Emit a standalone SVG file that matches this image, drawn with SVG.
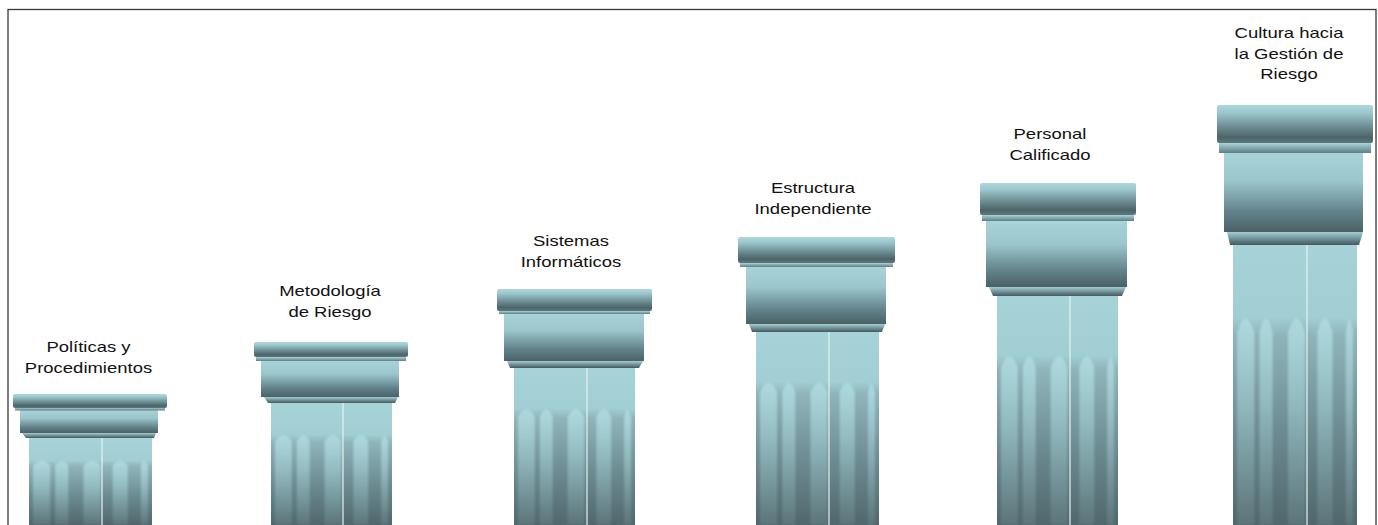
<svg xmlns="http://www.w3.org/2000/svg" xmlns:xlink="http://www.w3.org/1999/xlink" width="1378" height="525" viewBox="0 0 1378 525">
  <defs>
    <style>
      .frame { fill: none; stroke: #3a3a3a; stroke-width: 1.3; }
      .abacus { fill: url(#gAbacus); }
      .band { fill: url(#gBand); }
      .box { fill: url(#gBox); }
      .neck { fill: url(#gNeck); }
      .shaft { fill: url(#gShaft); }
      .flute { fill: url(#gFlute); }
      .fluting { filter: url(#soft); }
      .divider { stroke: #e4f3f5; stroke-width: 1.2; }
      .label { font-family: "Liberation Sans", Arial, sans-serif; font-size: 15.4px; fill: #111; text-anchor: middle; }
    </style>
    <filter id="soft" x="-5%" y="-5%" width="110%" height="110%">
      <feGaussianBlur stdDeviation="0.8"/>
    </filter>
    <linearGradient id="gAbacus" x1="0" y1="0" x2="0" y2="1">
      <stop offset="0" stop-color="#acd7dc"/>
      <stop offset="0.2" stop-color="#9cc8cd"/>
      <stop offset="0.55" stop-color="#6f9096"/>
      <stop offset="0.85" stop-color="#4c6469"/>
      <stop offset="1" stop-color="#5d797e"/>
    </linearGradient>
    <linearGradient id="gBand" x1="0" y1="0" x2="0" y2="1">
      <stop offset="0" stop-color="#a9d3d8"/>
      <stop offset="1" stop-color="#5e7d83"/>
    </linearGradient>
    <linearGradient id="gBox" x1="0" y1="0" x2="0" y2="1">
      <stop offset="0" stop-color="#a8d4d9"/>
      <stop offset="0.35" stop-color="#9bc7cc"/>
      <stop offset="0.75" stop-color="#62828a"/>
      <stop offset="1" stop-color="#4a6166"/>
    </linearGradient>
    <linearGradient id="gNeck" x1="0" y1="0" x2="0" y2="1">
      <stop offset="0" stop-color="#a3ced3"/>
      <stop offset="0.4" stop-color="#7c9ea4"/>
      <stop offset="1" stop-color="#44595e"/>
    </linearGradient>
    <linearGradient id="gShaft" x1="0" y1="0" x2="0" y2="1">
      <stop offset="0" stop-color="#a5d3d8"/>
      <stop offset="0.26" stop-color="#a0ced3"/>
      <stop offset="0.32" stop-color="#8fb5ba"/>
      <stop offset="0.65" stop-color="#6d8d93"/>
      <stop offset="1" stop-color="#50676c"/>
    </linearGradient>
    <linearGradient id="gFlute" x1="0" y1="0" x2="0" y2="1">
      <stop offset="0" stop-color="#aed9de" stop-opacity="1"/>
      <stop offset="0.4" stop-color="#9ec9ce" stop-opacity="0.7"/>
      <stop offset="1" stop-color="#7e9da2" stop-opacity="0.25"/>
    </linearGradient>
    <!-- fluting of one shaft, 122 wide by 100 tall; scaled per column -->
    <g id="flutes">
      <path class="flute" d="M4,7 L8,2 L12.5,0 L17,2 L21,7 V100 H4 Z"/>
      <path class="flute" d="M26,7 L29,2 L32.5,0 L36,2 L39,7 V100 H26 Z"/>
      <path class="flute" d="M54,7 L58,2 L62.5,0 L67,2 L71,7 V100 H54 Z"/>
      <path class="flute" d="M83,7 L86.5,2 L90.5,0 L94.5,2 L98,7 V100 H83 Z"/>
      <path class="flute" d="M111,7 L113,2 L114.5,0 L116,2 L118,7 V100 H111 Z"/>
    </g>
  </defs>

  <rect class="frame" x="8" y="9.5" width="1368" height="530"/>

  <g id="col-politicas">
    <rect class="shaft" x="29" y="438" width="123" height="87"/>
    <g class="fluting"><use xlink:href="#flutes" href="#flutes" transform="translate(29 460.6) scale(1.008 0.644)"/></g>
    <line class="divider" x1="102" y1="436" x2="102" y2="525"/>
    <polygon class="neck" points="22,433 156,433 154,438 26,438"/>
    <rect class="box" x="20" y="410" width="138" height="23"/>
    <rect class="band" x="15" y="407.5" width="150" height="3"/>
    <rect class="abacus" x="13" y="394" width="154" height="14" rx="2"/>
    <text class="label" transform="matrix(1.2 0 0 1 88.5 352)">Políticas y</text>
    <text class="label" transform="matrix(1.2 0 0 1 88.5 372.5)">Procedimientos</text>
  </g>

  <g id="col-metodologia">
    <rect class="shaft" x="271" y="403" width="121" height="122"/>
    <g class="fluting"><use xlink:href="#flutes" href="#flutes" transform="translate(271 434.7) scale(0.992 0.903)"/></g>
    <line class="divider" x1="343" y1="400" x2="343" y2="525"/>
    <polygon class="neck" points="264,397 398,397 395,403 268,403"/>
    <rect class="box" x="261" y="361" width="138" height="36"/>
    <rect class="band" x="256" y="357" width="150" height="4"/>
    <rect class="abacus" x="254" y="342" width="154" height="15" rx="2"/>
    <text class="label" transform="matrix(1.2 0 0 1 330 296)">Metodología</text>
    <text class="label" transform="matrix(1.2 0 0 1 330 316.5)">de Riesgo</text>
  </g>

  <g id="col-sistemas">
    <rect class="shaft" x="514" y="368" width="121" height="157"/>
    <g class="fluting"><use xlink:href="#flutes" href="#flutes" transform="translate(514 408.8) scale(0.992 1.162)"/></g>
    <line class="divider" x1="587" y1="364" x2="587" y2="525"/>
    <polygon class="neck" points="507,361 643,361 639,368 510,368"/>
    <rect class="box" x="504" y="314" width="140" height="47"/>
    <rect class="band" x="499" y="311" width="151" height="3"/>
    <rect class="abacus" x="497" y="289" width="155" height="22" rx="2"/>
    <text class="label" transform="matrix(1.2 0 0 1 571 246)">Sistemas</text>
    <text class="label" transform="matrix(1.2 0 0 1 571 266.5)">Informáticos</text>
  </g>

  <g id="col-estructura">
    <rect class="shaft" x="756" y="332" width="123" height="193"/>
    <g class="fluting"><use xlink:href="#flutes" href="#flutes" transform="translate(756 382.2) scale(1.008 1.428)"/></g>
    <line class="divider" x1="829" y1="327" x2="829" y2="525"/>
    <polygon class="neck" points="749,324 885,324 882,332 752,332"/>
    <rect class="box" x="746" y="267" width="140" height="57"/>
    <rect class="band" x="740" y="263" width="153" height="4"/>
    <rect class="abacus" x="738" y="237" width="157" height="26" rx="2"/>
    <text class="label" transform="matrix(1.2 0 0 1 813 193)">Estructura</text>
    <text class="label" transform="matrix(1.2 0 0 1 813 213.5)">Independiente</text>
  </g>

  <g id="col-personal">
    <rect class="shaft" x="997" y="296" width="121" height="229"/>
    <g class="fluting"><use xlink:href="#flutes" href="#flutes" transform="translate(997 355.5) scale(0.992 1.695)"/></g>
    <line class="divider" x1="1070" y1="290" x2="1070" y2="525"/>
    <polygon class="neck" points="989,287 1126,287 1122,296 993,296"/>
    <rect class="box" x="986" y="221" width="141" height="66"/>
    <rect class="band" x="982" y="215" width="152" height="6"/>
    <rect class="abacus" x="980" y="183" width="156" height="32" rx="2"/>
    <text class="label" transform="matrix(1.2 0 0 1 1050 139)">Personal</text>
    <text class="label" transform="matrix(1.2 0 0 1 1050 159.5)">Calificado</text>
  </g>

  <g id="col-cultura">
    <rect class="shaft" x="1233" y="245" width="124" height="280"/>
    <g class="fluting"><use xlink:href="#flutes" href="#flutes" transform="translate(1233 317.8) scale(1.016 2.072)"/></g>
    <line class="divider" x1="1307" y1="236" x2="1307" y2="525"/>
    <polygon class="neck" points="1227,232 1363,232 1359,245 1230,245"/>
    <rect class="box" x="1224" y="153" width="139" height="79"/>
    <rect class="band" x="1219" y="143" width="152" height="10"/>
    <rect class="abacus" x="1217" y="105" width="156" height="38" rx="2"/>
    <text class="label" transform="matrix(1.2 0 0 1 1289 38)">Cultura hacia</text>
    <text class="label" transform="matrix(1.2 0 0 1 1289 58.5)">la Gestión de</text>
    <text class="label" transform="matrix(1.2 0 0 1 1289 79)">Riesgo</text>
  </g>
</svg>
